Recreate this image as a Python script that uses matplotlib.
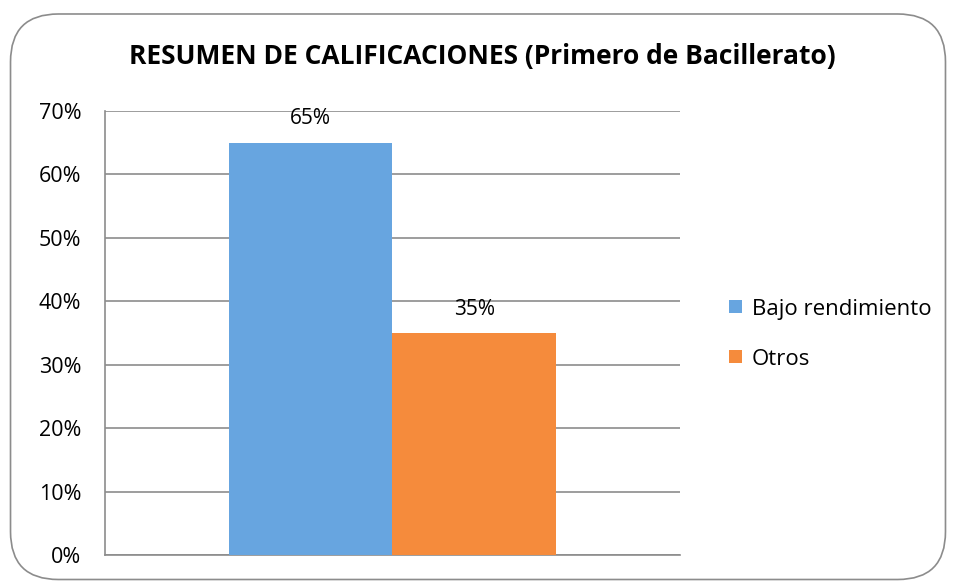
import numpy as np
import matplotlib.pyplot as plt
from matplotlib.patches import FancyBboxPatch

plt.rcParams['font.family'] = ['Open Sans', 'DejaVu Sans']

series = ['Bajo rendimiento', 'Otros']
values = [0.65, 0.35]
colors = ['#67A5E0', '#F58B3C']
yticks = np.arange(0, 0.71, 0.1)

fig = plt.figure(figsize=(9.56, 5.83), dpi=100)
ax = fig.add_axes([0.1098, 0.048, 0.6015, 0.7618])

w = 0.285
offsets = [-w / 2, w / 2]
for name, v, c, off in zip(series, values, colors, offsets):
    ax.bar(off, v, width=w, color=c, label=name, zorder=3)
    ax.annotate(f'{v:.0%}', (off, v), xytext=(0, 17), textcoords='offset points',
                ha='center', va='center', fontsize=15, zorder=4)

ax.set_xlim(-0.5, 0.5)
ax.set_ylim(0, 0.7)
ax.set_yticks(yticks)
ax.set_yticklabels([f'{t:.0%}' for t in yticks], fontsize=15.5)
ax.set_xticks([])
ax.tick_params(axis='y', length=0, pad=17)
ax.grid(axis='y', color='#8c8c8c', linewidth=1.2, zorder=0)
for s in ['top', 'right']:
    ax.spines[s].set_visible(False)
for s in ['left', 'bottom']:
    ax.spines[s].set_color('#8c8c8c')
    ax.spines[s].set_linewidth(1.2)

fig.text(0.505, 0.903, 'RESUMEN DE CALIFICACIONES (Primero de Bacillerato)',
         ha='center', va='center', fontsize=19, fontweight='bold')

fig.legend(loc='center left', bbox_to_anchor=(0.742, 0.427), frameon=False,
           fontsize=16, handlelength=0.55, handleheight=0.55, handletextpad=0.45,
           labelspacing=1.3)

border = FancyBboxPatch((0.011, 0.006), 0.978, 0.97, boxstyle='round,pad=0,rounding_size=0.05',
                        transform=fig.transFigure, fill=False, edgecolor='#8c8c8c',
                        linewidth=1.2, mutation_aspect=956 / 583)
fig.patches.append(border)

fig.savefig('out.png', dpi=100)
